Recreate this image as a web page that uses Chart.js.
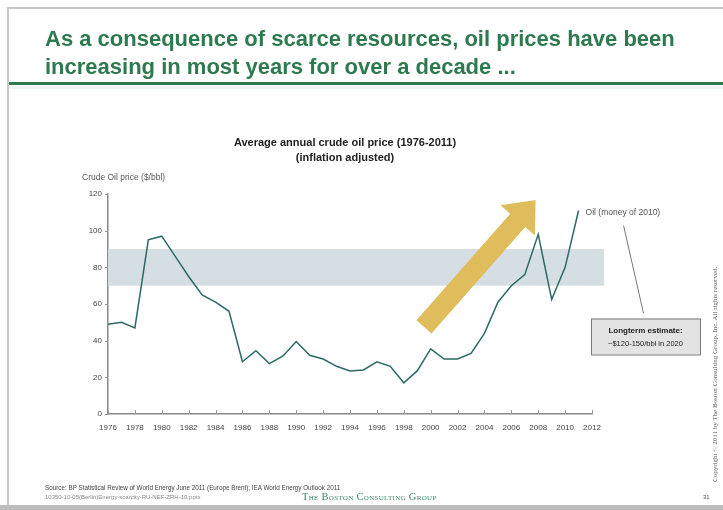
<!DOCTYPE html>
<html>
<head>
<meta charset="utf-8">
<script src="https://cdn.jsdelivr.net/npm/chart.js@4"></script>
<style>
  html, body { margin: 0; padding: 0; background: #fff; }
  #slide { position: relative; width: 723px; height: 510px; overflow: hidden; font-family: "Liberation Sans", Arial, sans-serif; }
  #oilChart { position: absolute; left: 0; top: 0; }
  .frame-top { position: absolute; left: 7px; top: 7px; right: 0; height: 2px; background: #c8c8c8; }
  .frame-left { position: absolute; left: 7px; top: 7px; width: 2px; height: 500px; background: #c8c8c8; }
  .headline { position: absolute; left: 45px; top: 25px; color: #2d7a4f; font-weight: bold; font-size: 22px; line-height: 28px; letter-spacing: 0px; }
  .rule { position: absolute; left: 9px; right: 0; top: 82px; height: 3px; background: #2d7a4f; }
  .rule2 { position: absolute; left: 9px; right: 0; top: 86px; height: 3px; background: #eef5f0; }
  .source { position: absolute; left: 45px; top: 484px; font-size: 6.3px; color: #444; }
  .fileref { position: absolute; left: 45px; top: 494px; font-size: 6px; color: #888; }
  .bcg { position: absolute; left: 302px; top: 491px; font-family: "Liberation Serif", serif; font-variant: small-caps; font-size: 10.5px; color: #3a8a6a; letter-spacing: 0.3px; }
  .pagenum { position: absolute; left: 703px; top: 494px; font-size: 6px; color: #555; }
  .copyright { position: absolute; left: 711px; top: 482px; transform-origin: 0 0; transform: rotate(-90deg); font-family: "Liberation Serif", serif; font-size: 7px; color: #666; white-space: nowrap; }
  .footbar { position: absolute; left: 0; right: 0; top: 505px; height: 5px; background: #bdbdbd; }
</style>
</head>
<body>
<div id="slide">
  <canvas id="oilChart" width="723" height="510"></canvas>
  <div class="frame-top"></div>
  <div class="frame-left"></div>
  <div class="headline">As a consequence of scarce resources, oil prices have been<br>increasing in most years for over a decade ...</div>
  <div class="rule"></div>
  <div class="rule2"></div>
  <div class="source">Source: BP Statistical Review of World Energy June 2011 (Europe Brent); IEA World Energy Outlook 2011</div>
  <div class="fileref">10350-10-05(Berlin)Energy-scarcity-RU-NEF-ZRH-10.pptx</div>
  <div class="bcg">The Boston Consulting Group</div>
  <div class="pagenum">31</div>
  <div class="copyright">Copyright © 2011 by The Boston Consulting Group, Inc. All rights reserved.</div>
  <div class="footbar"></div>
</div>
<script>
const years = [1976, 1977, 1978, 1979, 1980, 1981, 1982, 1983, 1984, 1985,
               1986, 1987, 1988, 1989, 1990, 1991, 1992, 1993, 1994, 1995,
               1996, 1997, 1998, 1999, 2000, 2001, 2002, 2003, 2004, 2005,
               2006, 2007, 2008, 2009, 2010, 2011];
const oilPrice = [49, 50, 47, 95, 97, 86, 75, 65, 61, 56,
                  28.5, 34.5, 27.5, 31.5, 39.5, 32, 30, 26, 23.5, 24,
                  28.5, 26, 17, 23.5, 35.5, 30, 30, 33, 44, 61,
                  70, 76, 98, 62.5, 80, 111];
const yTicks = [0, 20, 40, 60, 80, 100, 120];
const xTicks = [1976, 1978, 1980, 1982, 1984, 1986, 1988, 1990, 1992, 1994,
                1996, 1998, 2000, 2002, 2004, 2006, 2008, 2010, 2012];

// target corridor and trend arrow, in data units
const bandRange = [70, 90];
const bandYears = [1976, 2012.9];
const arrowFrom = [1999.5, 47.5];
const arrowTo = [2007.8, 116.7];

const chartTitle = ['Average annual crude oil price (1976-2011)', '(inflation adjusted)'];
const axisTitle = 'Crude Oil price ($/bbl)';
const seriesLabel = 'Oil (money of 2010)';
const estimateLines = ['Longterm estimate:', '~$120-150/bbl in 2020'];

const FONT = '"Liberation Sans", Arial, sans-serif';

const decorations = {
    id: 'decorations',
    beforeDatasetsDraw(chart) {
        const { ctx, scales: { x, y } } = chart;
        ctx.save();
        // corridor band
        const bx0 = x.getPixelForValue(bandYears[0]);
        const bx1 = x.getPixelForValue(bandYears[1]);
        const by0 = y.getPixelForValue(bandRange[1]);
        const by1 = y.getPixelForValue(bandRange[0]);
        ctx.fillStyle = '#d4dee3';
        ctx.fillRect(bx0, by0, bx1 - bx0, by1 - by0);

        // trend arrow
        const tx = x.getPixelForValue(arrowFrom[0]), ty = y.getPixelForValue(arrowFrom[1]);
        const hx = x.getPixelForValue(arrowTo[0]), hy = y.getPixelForValue(arrowTo[1]);
        const len = Math.hypot(hx - tx, hy - ty);
        const ux = (hx - tx) / len, uy = (hy - ty) / len;
        const nx = -uy, ny = ux;
        const headLen = 27, headHalf = 23, shaftHalf = 10;
        const cx = hx - ux * headLen, cy = hy - uy * headLen;
        ctx.fillStyle = '#dfbd5c';
        ctx.beginPath();
        ctx.moveTo(tx + nx * shaftHalf, ty + ny * shaftHalf);
        ctx.lineTo(cx + nx * shaftHalf, cy + ny * shaftHalf);
        ctx.lineTo(cx + nx * headHalf, cy + ny * headHalf);
        ctx.lineTo(hx, hy);
        ctx.lineTo(cx - nx * headHalf, cy - ny * headHalf);
        ctx.lineTo(cx - nx * shaftHalf, cy - ny * shaftHalf);
        ctx.lineTo(tx - nx * shaftHalf, ty - ny * shaftHalf);
        ctx.closePath();
        ctx.fill();
        ctx.restore();
    },
    afterDraw(chart) {
        const { ctx, chartArea, scales: { x, y } } = chart;
        ctx.save();

        // inward tick marks on x, outward on y
        ctx.strokeStyle = '#999';
        ctx.lineWidth = 1;
        xTicks.forEach(v => {
            const px = Math.round(x.getPixelForValue(v)) + 0.5;
            ctx.beginPath();
            ctx.moveTo(px, chartArea.bottom);
            ctx.lineTo(px, chartArea.bottom - 4);
            ctx.stroke();
        });
        yTicks.forEach(v => {
            const py = Math.round(y.getPixelForValue(v)) + 0.5;
            ctx.beginPath();
            ctx.moveTo(chartArea.left - 3, py);
            ctx.lineTo(chartArea.left, py);
            ctx.stroke();
        });

        // chart title
        const mid = (chartArea.left + chartArea.right) / 2 - 5;
        ctx.fillStyle = '#222';
        ctx.textAlign = 'center';
        ctx.textBaseline = 'middle';
        ctx.font = 'bold 11px ' + FONT;
        ctx.fillText(chartTitle[0], mid, chartArea.top - 51);
        ctx.fillText(chartTitle[1], mid, chartArea.top - 36);

        // axis title
        ctx.fillStyle = '#555';
        ctx.textAlign = 'left';
        ctx.font = '8.5px ' + FONT;
        ctx.fillText(axisTitle, chartArea.left - 26, chartArea.top - 16);

        // series label beside the last point
        const lastX = x.getPixelForValue(years[years.length - 1]);
        const lastY = y.getPixelForValue(oilPrice[oilPrice.length - 1]);
        ctx.fillText(seriesLabel, lastX + 7, lastY + 2);

        // callout with leader line
        ctx.strokeStyle = '#777';
        ctx.beginPath();
        ctx.moveTo(lastX + 45, lastY + 15);
        ctx.lineTo(lastX + 65, lastY + 103);
        ctx.stroke();

        const bx = chartArea.right - 1, by = lastY + 108, bw = 109, bh = 36;
        ctx.fillStyle = '#e3e3e3';
        ctx.fillRect(bx, by, bw, bh);
        ctx.strokeStyle = '#7a7a7a';
        ctx.strokeRect(bx + 0.5, by + 0.5, bw, bh);
        ctx.fillStyle = '#222';
        ctx.textAlign = 'center';
        ctx.font = 'bold 8px ' + FONT;
        ctx.fillText(estimateLines[0], bx + bw / 2, by + 12);
        ctx.font = '7.5px ' + FONT;
        ctx.fillText(estimateLines[1], bx + bw / 2, by + 25);
        ctx.restore();
    }
};

new Chart(document.getElementById('oilChart'), {
    type: 'line',
    data: {
        labels: years,
        datasets: [{
            label: seriesLabel,
            data: years.map((yr, i) => ({ x: yr, y: oilPrice[i] })),
            borderColor: '#2b6a66',
            borderWidth: 1.5,
            pointRadius: 0,
            tension: 0,
            fill: false
        }]
    },
    options: {
        responsive: false,
        animation: false,
        layout: { padding: { left: 78, right: 131, top: 194, bottom: 66 } },
        plugins: {
            legend: { display: false },
            tooltip: { enabled: false }
        },
        scales: {
            x: {
                type: 'linear',
                min: 1976,
                max: 2012,
                afterFit: s => { s.height = 30; },
                afterBuildTicks: s => { s.ticks = xTicks.map(v => ({ value: v })); },
                grid: { display: false, tickLength: 1 },
                border: { color: '#8a8a8a', width: 1.5 },
                ticks: {
                    padding: 8,
                    color: '#444',
                    font: { family: FONT, size: 8 },
                    maxRotation: 0,
                    autoSkip: false,
                    callback: v => String(v)
                }
            },
            y: {
                min: 0,
                max: 120,
                afterFit: s => { s.width = 30; },
                afterBuildTicks: s => { s.ticks = yTicks.map(v => ({ value: v })); },
                grid: { display: false, tickLength: 1 },
                border: { color: '#8a8a8a', width: 1.5 },
                ticks: {
                    padding: 5,
                    color: '#444',
                    font: { family: FONT, size: 8 }
                }
            }
        }
    },
    plugins: [decorations]
});
</script>
</body>
</html>
